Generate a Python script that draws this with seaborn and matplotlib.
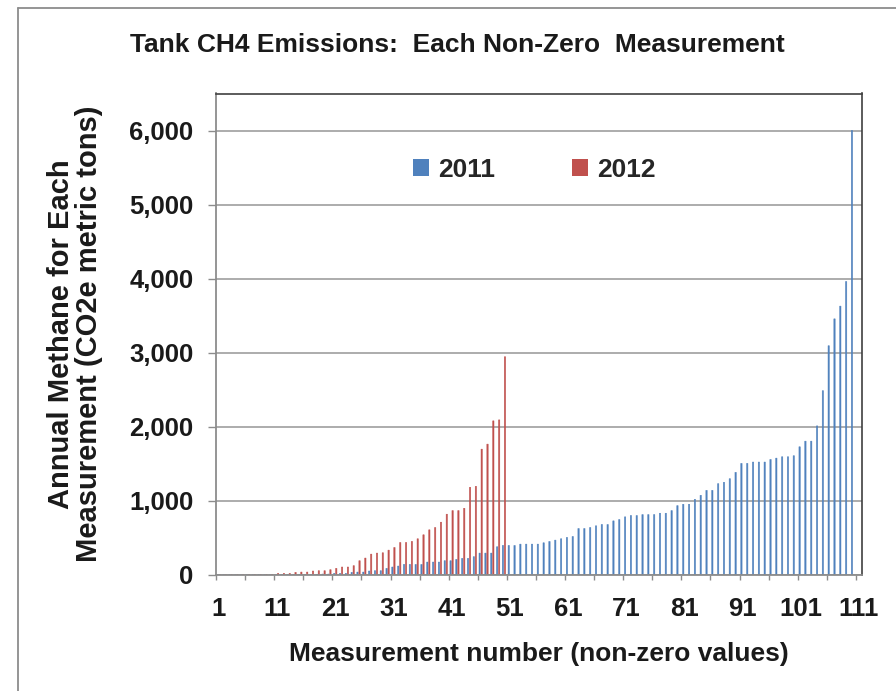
import numpy as np
import pandas as pd
import matplotlib
matplotlib.use("Agg")
import matplotlib.pyplot as plt
import seaborn as sns
from matplotlib.patches import Patch
from matplotlib.lines import Line2D

# ---- data ----
values_2011 = [1, 1, 1, 1, 1, 2, 2, 2, 2, 2, 3, 3, 3, 3, 4, 4,
               5, 9, 13, 13, 22, 22, 22, 36, 40, 40, 54, 58, 58, 90,
               108, 121, 143, 143, 143, 143, 175, 175, 175, 193,
               193, 211, 224, 224, 247, 296, 296, 296, 381, 399,
               399, 399, 417, 417, 417, 417, 435, 453, 471, 489,
               507, 520, 628, 628, 641, 664, 682, 682, 731, 749,
               785, 803, 803, 816, 816, 816, 834, 834, 870, 937,
               955, 955, 1022, 1076, 1143, 1143, 1233, 1251, 1300, 1386,
               1507, 1507, 1525, 1525, 1525, 1560, 1578, 1596, 1596, 1610,
               1731, 1807, 1807, 2013, 2488, 3095, 3458, 3630, 3962, 6000]
values_2012 = [1, 1, 2, 2, 3, 4, 5, 6, 8, 10,
               22, 22, 22, 36, 40, 40, 54, 58, 58, 72,
               90, 108, 108, 126, 193, 229, 282, 296, 300, 336,
               372, 439, 439, 453, 489, 543, 610, 641, 713, 821,
               870, 870, 901, 1184, 1197, 1699, 1767, 2081, 2094, 2946]
years = ["2011", "2012"]
n_categories = 111
x_tick_labels = ["1", "11", "21", "31", "41", "51", "61", "71", "81", "91", "101", "111"]
y_ticks = [0, 1000, 2000, 3000, 4000, 5000, 6000]
y_tick_labels = ["0", "1,000", "2,000", "3,000", "4,000", "5,000", "6,000"]
colors = {"2011": "#4F81BD", "2012": "#C0504D"}

df = pd.concat([
    pd.DataFrame({"measurement": np.arange(1, len(values_2011) + 1),
                  "year": "2011", "value": values_2011}),
    pd.DataFrame({"measurement": np.arange(1, len(values_2012) + 1),
                  "year": "2012", "value": values_2012}),
], ignore_index=True)

# ---- figure ----
sns.set_theme(style="white")
plt.rcParams["font.family"] = ["Liberation Sans", "DejaVu Sans"]
plt.rcParams["font.weight"] = "bold"

fig = plt.figure(figsize=(8.96, 6.91), dpi=100)
ax = fig.add_axes([216 / 896, 1 - 575 / 691, (861.7 - 216) / 896, (575 - 93.5) / 691])

sns.barplot(data=df, x="measurement", y="value", hue="year",
            order=list(range(1, n_categories + 1)), hue_order=years,
            palette=colors, saturation=1, width=0.7, gap=0.35, linewidth=0,
            errorbar=None, ax=ax, legend=False)

# make the very thin bars render in their own colour
for bar in ax.patches:
    bar.set_edgecolor(bar.get_facecolor())
    bar.set_linewidth(0.35)
    bar.set_snap(False)

ax.set_xlim(-0.5, n_categories - 0.5)
ax.set_ylim(0, 6500)

# y axis
ax.set_yticks(y_ticks)
ax.set_yticklabels(y_tick_labels, fontsize=18.5, fontweight="bold", color="#1a1a1a")
ax.tick_params(axis="y", direction="out", length=5.8, width=1, color="#8c8c8c",
               pad=10.5, left=True)
ax.yaxis.grid(True, color="#a6a6a6", linewidth=1.3)
ax.set_axisbelow(True)

# x axis: labels at centers every 10, tick marks at boundaries every 5
ax.set_xticks(np.arange(0, n_categories, 10))
ax.set_xticklabels(x_tick_labels, fontsize=18.5, fontweight="bold", color="#1a1a1a")
ax.set_xticks(np.arange(-0.5, n_categories - 1, 5), minor=True)
ax.tick_params(axis="x", which="major", length=0, pad=16, bottom=True)
ax.tick_params(axis="x", which="minor", direction="out", length=3.6, width=1,
               color="#8c8c8c", bottom=True)

for side in ["left", "bottom"]:
    ax.spines[side].set_color("#8c8c8c")
    ax.spines[side].set_linewidth(1.3)
for side in ["top", "right"]:
    ax.spines[side].set_color("#404040")
    ax.spines[side].set_linewidth(1.2)

ax.set_xlabel("Measurement number (non-zero values)", fontsize=19,
              fontweight="bold", color="#1a1a1a")
ax.xaxis.set_label_coords(0.5, -0.139)
ax.set_ylabel("Annual Methane for Each\nMeasurement (CO2e metric tons)",
              fontsize=21, fontweight="bold", color="#1a1a1a", linespacing=1.0)
ax.yaxis.set_label_coords(-0.175, 0.5)

fig.text(457 / 896, 1 - 45 / 691, "Tank CH4 Emissions:  Each Non-Zero  Measurement",
         ha="center", va="center", fontsize=19, fontweight="bold", color="#1a1a1a")

handles = [Patch(facecolor=colors[y], edgecolor="none", label=y) for y in years]
ax.legend(handles=handles, loc="center", bbox_to_anchor=(0.493, 0.841),
          ncol=2, frameon=False, prop={"size": 19, "weight": "bold"},
          handlelength=0.6, handleheight=0.6, handletextpad=0.35,
          columnspacing=2.9)

# outer chart border (left and top visible)
fig.add_artist(Line2D([18 / 896, 18 / 896], [0, 1 - 8 / 691],
                      transform=fig.transFigure, color="#8c8c8c", lw=1.3))
fig.add_artist(Line2D([18 / 896, 1], [1 - 8 / 691, 1 - 8 / 691],
                      transform=fig.transFigure, color="#8c8c8c", lw=1.3))

fig.savefig("out.png", dpi=100, facecolor="white")
